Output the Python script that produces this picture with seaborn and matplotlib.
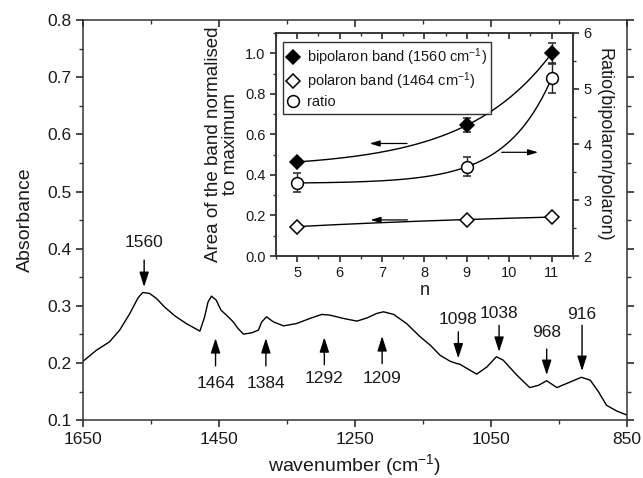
import numpy as np
import pandas as pd
import matplotlib
matplotlib.use("Agg")
import matplotlib.pyplot as plt
from matplotlib.lines import Line2D
from matplotlib.ticker import MultipleLocator, FixedLocator, FormatStrFormatter
import seaborn as sns

# ---------------- data ----------------
spec_wn = [1650, 1630, 1611, 1596, 1581, 1569, 1562, 1552, 1542, 1530, 1515, 1498, 1478,
           1471, 1466, 1461, 1454, 1447, 1439, 1429, 1422, 1414, 1402, 1392, 1387, 1380,
           1370, 1355, 1336, 1316, 1299, 1287, 1267, 1247, 1232, 1218, 1208, 1193, 1174,
           1154, 1139, 1125, 1110, 1100, 1096, 1081, 1071, 1056, 1042, 1032, 1012, 993,
           980, 968, 953, 939, 917, 904, 892, 880, 865, 850]
spec_abs = [0.203, 0.2225, 0.237, 0.2575, 0.2867, 0.314, 0.3234, 0.3217, 0.313, 0.298,
            0.2826, 0.269, 0.2558, 0.281, 0.307, 0.317, 0.310, 0.2925, 0.2838, 0.272,
            0.2605, 0.2505, 0.2528, 0.2575, 0.272, 0.2808, 0.272, 0.265, 0.269, 0.278,
            0.285, 0.2838, 0.278, 0.2733, 0.279, 0.2867, 0.2896, 0.285, 0.269, 0.2458,
            0.231, 0.2138, 0.203, 0.199, 0.198, 0.1875, 0.1805, 0.193, 0.211, 0.205, 0.179,
            0.157, 0.161, 0.169, 0.157, 0.164, 0.175, 0.170, 0.150, 0.126, 0.116, 0.109]

down_labels = ["1560", "1098", "1038", "968", "916"]
down_x = [1560, 1098, 1038, 968, 916]
up_labels = ["1464", "1384", "1292", "1209"]
up_x = [1455, 1381, 1295, 1210]

n_vals = [5, 9, 11]
bipolaron = [0.464, 0.645, 1.0]
bipolaron_err = [0.015, 0.035, 0.05]
polaron = [0.145, 0.18, 0.192]
polaron_err = [0.01, 0.012, 0.01]
ratio = [3.31, 3.60, 5.19]
ratio_err = [0.17, 0.17, 0.26]

main_xticks = [1650, 1450, 1250, 1050, 850]
main_xminor = [1550, 1350, 1150, 950]

# ---------------- style ----------------
sns.set_theme(style="ticks")
plt.rcParams["font.family"] = ["Liberation Sans", "DejaVu Sans"]
INK = "#1a1a1a"
plt.rcParams.update({
    "axes.edgecolor": "#333333", "axes.linewidth": 1.1,
    "xtick.color": "#333333", "ytick.color": "#333333",
    "xtick.labelcolor": INK, "ytick.labelcolor": INK,
    "text.color": INK, "axes.labelcolor": INK,
    "xtick.major.size": 5, "ytick.major.size": 5,
    "xtick.minor.size": 3, "ytick.minor.size": 3,
    "mathtext.default": "regular",
})

fig = plt.figure(figsize=(6.43, 4.78), dpi=100)
ax = fig.add_axes([0.129, 0.121, 0.846, 0.837])

df = pd.DataFrame({"wn": spec_wn, "A": spec_abs})
sns.lineplot(data=df, x="wn", y="A", ax=ax, color="black", lw=1.0, sort=False)
ax.set_xlim(1650, 850)
ax.set_ylim(0.1, 0.8)
ax.xaxis.set_major_locator(FixedLocator(main_xticks))
ax.xaxis.set_minor_locator(FixedLocator(main_xminor))
ax.yaxis.set_major_locator(MultipleLocator(0.1))
ax.yaxis.set_minor_locator(MultipleLocator(0.05))
ax.yaxis.set_major_formatter(FormatStrFormatter("%.1f"))
ax.tick_params(which="both", right=True, labelsize=12.5)
ax.tick_params(which="both", axis="x", top=True)
for t in ax.xaxis.get_major_ticks() + ax.xaxis.get_minor_ticks():
    t.tick2line.set_marker(matplotlib.lines.TICKDOWN)
ax.set_xlabel("wavenumber (cm$^{-1}$)", fontsize=14, labelpad=4)
ax.set_ylabel("Absorbance", fontsize=14, labelpad=9)

arrow_kw = dict(arrowstyle="-|>,head_length=0.75,head_width=0.24", color="black", lw=1.0,
                shrinkA=0, shrinkB=0)
down_geo = {"1560": (0.380, 0.333, 0.410), "1098": (0.2545, 0.208, 0.276),
            "1038": (0.266, 0.2195, 0.2867), "968": (0.2245, 0.179, 0.253),
            "916": (0.266, 0.186, 0.2855)}
for lab, x in zip(down_labels, down_x):
    tail, tip, ty = down_geo[lab]
    ax.annotate("", xy=(x, tip), xytext=(x, tail), arrowprops=arrow_kw)
    ax.text(x, ty, lab, ha="center", va="center", fontsize=12.5)
up_geo = {"1464": (0.195, 0.2435, 0.165), "1384": (0.195, 0.2435, 0.165),
          "1292": (0.197, 0.245, 0.173), "1209": (0.199, 0.247, 0.173)}
for lab, x in zip(up_labels, up_x):
    tail, tip, ty = up_geo[lab]
    ax.annotate("", xy=(x, tip), xytext=(x, tail), arrowprops=arrow_kw)
    ax.text(x, ty, lab, ha="center", va="center", fontsize=12.5)

# ---------------- inset ----------------
ins = fig.add_axes([0.429, 0.4644, 0.462, 0.4666])
ins2 = ins.twinx()


def fit_exp(xs, ys):
    xs = np.asarray(xs, float); ys = np.asarray(ys, float)
    target = (ys[2] - ys[1]) / (ys[1] - ys[0])

    def r(k):
        if abs(k) < 1e-9:
            return (xs[2] - xs[1]) / (xs[1] - xs[0])
        return (np.exp(k * xs[2]) - np.exp(k * xs[1])) / (np.exp(k * xs[1]) - np.exp(k * xs[0]))
    lo, hi = -3.0, 3.0
    for _ in range(200):
        mid = 0.5 * (lo + hi)
        if r(mid) < target:
            lo = mid
        else:
            hi = mid
    k = 0.5 * (lo + hi)
    b = (ys[1] - ys[0]) / (np.exp(k * xs[1]) - np.exp(k * xs[0]))
    a = ys[0] - b * np.exp(k * xs[0])
    xx = np.linspace(xs[0], xs[-1], 200)
    return xx, a + b * np.exp(k * xx)


for ys, a_ in [(bipolaron, ins), (polaron, ins), (ratio, ins2)]:
    xx, yy = fit_exp(n_vals, ys)
    sns.lineplot(x=xx, y=yy, ax=a_, color="black", lw=1.0)

eb = dict(color="black", ecolor="#222222", elinewidth=1.0, capsize=3, capthick=1.0, ls="none",
          markeredgewidth=1.1)
ins.errorbar(n_vals, bipolaron, yerr=bipolaron_err, marker="D", mfc="black", mec="black",
             markersize=7.5, **eb)
ins.errorbar(n_vals, polaron, yerr=polaron_err, marker="D", mfc="white", mec="black",
             markersize=7.5, **eb)
ins2.errorbar(n_vals, ratio, yerr=ratio_err, marker="o", mfc="white", mec="black",
              markersize=8.5, **eb)

ins.set_xlim(4.5, 11.5)
ins.set_ylim(0, 1.1)
ins2.set_ylim(2, 6)
ins.xaxis.set_major_locator(MultipleLocator(1))
ins.xaxis.set_minor_locator(MultipleLocator(0.5))
ins.yaxis.set_major_locator(MultipleLocator(0.2))
ins.yaxis.set_minor_locator(MultipleLocator(0.1))
ins.yaxis.set_major_formatter(FormatStrFormatter("%.1f"))
ins2.yaxis.set_major_locator(MultipleLocator(1))
ins2.yaxis.set_minor_locator(MultipleLocator(0.5))
ins.tick_params(which="both", labelsize=10.5)
ins.tick_params(which="major", length=4)
ins.tick_params(which="minor", length=2.5)
ins.tick_params(which="both", axis="x", top=True)
for t in ins.xaxis.get_major_ticks() + ins.xaxis.get_minor_ticks():
    t.tick2line.set_marker(matplotlib.lines.TICKDOWN)
ins2.tick_params(which="major", length=4, labelsize=10.5)
ins2.tick_params(which="minor", length=2.5)
ins.set_xlabel("n", fontsize=13, labelpad=1)
ins.set_ylabel("Area of the band normalised\nto maximum", fontsize=13.5, linespacing=1.0,
               labelpad=4)
ins2.set_ylabel("Ratio(bipolaron/polaron)", fontsize=13, rotation=270, labelpad=15)

akw = dict(arrowstyle="-|>,head_length=0.5,head_width=0.15", color="black", lw=0.9,
           shrinkA=0, shrinkB=0)
ins.annotate("", xy=(6.71, 0.555), xytext=(7.59, 0.555), arrowprops=akw)
ins.annotate("", xy=(6.73, 0.178), xytext=(7.6, 0.178), arrowprops=akw)
ins2.annotate("", xy=(10.68, 3.86), xytext=(9.82, 3.86), arrowprops=akw)

handles = [
    Line2D([], [], ls="none", marker="D", mfc="black", mec="black", ms=7.5, mew=1.1,
           label="bipolaron band (1560 cm$^{-1}$)"),
    Line2D([], [], ls="none", marker="D", mfc="white", mec="black", ms=7.5, mew=1.1,
           label="polaron band (1464 cm$^{-1}$)"),
    Line2D([], [], ls="none", marker="o", mfc="white", mec="black", ms=8.5, mew=1.1,
           label="ratio"),
]
leg = ins2.legend(handles=handles, loc="upper left", bbox_to_anchor=(0.025, 0.96),
                  fontsize=10.5, frameon=True, fancybox=False, edgecolor="black",
                  handlelength=0.8, handletextpad=0.5, borderpad=0.3, labelspacing=0.2,
                  borderaxespad=0.0)
leg.get_frame().set_linewidth(1.0)

fig.savefig("out.png", dpi=100)
